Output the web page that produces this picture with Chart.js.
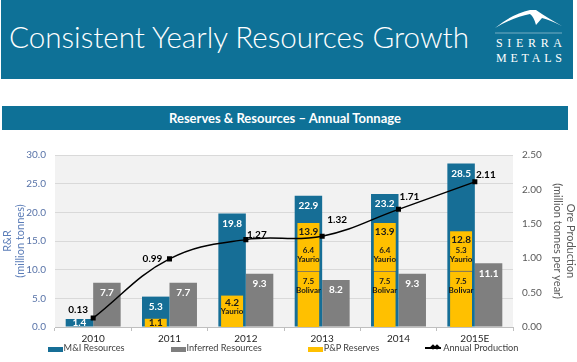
<!DOCTYPE html>
<html>
<head>
<meta charset="utf-8">
<script src="https://cdn.jsdelivr.net/npm/chart.js@4.4.1/dist/chart.umd.min.js"></script>
<style>
  html, body { margin: 0; padding: 0; background: #fff; }
  body { width: 577px; height: 362px; position: relative; overflow: hidden; font-family: Lato, "Open Sans", sans-serif; }
  .header { position: absolute; left: 1px; top: 0; width: 572px; height: 79px; background: #0e7197; }
  .header h1 { position: absolute; left: 8px; top: 19px; margin: 0; font-weight: 300; font-size: 29.6px; line-height: 35px; color: #fff; white-space: nowrap; }
  .logo { position: absolute; left: 479px; top: 0; }
  .band { position: absolute; left: 2px; top: 106px; width: 566px; height: 24px; background: #0e7197; color: #fff; font-weight: bold; font-size: 13px; line-height: 24px; text-align: center; }
  .chart-box { position: absolute; left: 0; top: 140px; width: 577px; height: 222px; }
  #legend { position: absolute; left: 0; top: 342px; width: 566px; display: flex; justify-content: center; gap: 46px; font-size: 9.2px; line-height: 12px; color: #404040; }
  #legend .item { display: flex; align-items: center; white-space: nowrap; }
  #legend .box { width: 15px; height: 5px; margin-right: 1px; margin-top: 2px; }
  #legend .ln { position: relative; width: 16px; height: 2px; margin-right: 2px; background: #000; }
  #legend .ln i { position: absolute; top: -2px; width: 4px; height: 4px; background: #000; transform: rotate(45deg); }
</style>
</head>
<body>
<div class="header">
  <h1>Consistent Yearly Resources Growth</h1>
  <svg class="logo" width="95" height="79">
    <path d="M15,28 Q32,14 50,10 L56,10 Q66,17 82,26 Q70,20 62,18 L56,25 Q54,17 50,14 Q34,17 15,28 Z" fill="#fff"/>
    <line x1="15" y1="33" x2="82" y2="33" stroke="rgba(255,255,255,0.55)" stroke-width="0.8"/>
    <text x="16" y="47" fill="#fff" font-family="Liberation Serif" font-size="12" textLength="66" lengthAdjust="spacing">SIERRA</text>
    <text x="16" y="62" fill="#fff" font-family="Liberation Serif" font-size="12" textLength="66" lengthAdjust="spacing">METALS</text>
  </svg>
</div>
<div class="band">Reserves &amp; Resources – Annual Tonnage</div>
<div class="chart-box"><canvas id="chart"></canvas></div>
<div id="legend"></div>
<script>
const years = ['2010', '2011', '2012', '2013', '2014', '2015E'];
const miResources = [1.4, 5.3, 19.8, 22.9, 23.2, 28.5];
const inferredResources = [7.7, 7.7, 9.3, 8.2, 9.3, 11.1];
const ppBolivar = [null, null, null, 7.5, 7.5, 7.5];
const ppYaurio = [null, 1.1, 4.2, 6.4, 6.4, 5.3];
const annualProduction = [0.13, 0.99, 1.27, 1.32, 1.71, 2.11];
const rrTicks = [0, 5, 10, 15, 20, 25, 30];
const prodTicks = [0, 0.5, 1, 1.5, 2, 2.5];

const BLUE = '#166e96';
const GRAY = '#7f7f7f';
const GOLD = '#ffc000';
// where each production label sits relative to its point
const prodLabelOffsets = [[-15, -8], [-17, 0], [11, -5], [15, -16], [11, -13], [11, -7]];

const plotBg = {
  id: 'plotBg',
  beforeDraw(chart) {
    const { ctx, chartArea: a } = chart;
    ctx.save();
    ctx.fillStyle = '#f2f2f2';
    ctx.fillRect(a.left, a.top, a.right - a.left, a.bottom - a.top);
    ctx.restore();
  }
};

const valueLabels = {
  id: 'valueLabels',
  afterDatasetsDraw(chart) {
    const ctx = chart.ctx;
    ctx.save();
    ctx.textAlign = 'center';
    ctx.textBaseline = 'middle';

    // white labels in the blue and gray bars
    [0, 1].forEach(di => {
      chart.getDatasetMeta(di).data.forEach((bar, i) => {
        const v = chart.data.datasets[di].data[i];
        const h = bar.base - bar.y;
        const y = h < 20 ? (bar.y + bar.base) / 2 : bar.y + 10;
        ctx.font = 'bold 10px Lato';
        ctx.fillStyle = '#fff';
        ctx.fillText(v.toFixed(1), bar.x, y);
      });
    });

    // P&P reserves, total and split by mine
    const bMeta = chart.getDatasetMeta(2);
    const yMeta = chart.getDatasetMeta(3);
    ctx.fillStyle = '#1a1a1a';
    years.forEach((_, i) => {
      const ya = ppYaurio[i];
      const b = ppBolivar[i];
      if (ya == null) return;
      const el = yMeta.data[i];
      const total = ya + (b || 0);
      const segH = el.base - el.y;
      if (b != null) {
        const bEl = bMeta.data[i];
        ctx.font = 'bold 10px Lato';
        ctx.fillText(total.toFixed(1), el.x, el.y + 9);
        ctx.font = 'bold 8px Lato';
        ctx.fillText(ya.toFixed(1), el.x, el.base - 20);
        ctx.fillText('Yaurio', el.x, el.base - 11);
        ctx.fillText(b.toFixed(1), el.x, bEl.y + 11);
        ctx.fillText('Bolivar', el.x, bEl.y + 20);
      } else if (segH > 20) {
        ctx.font = 'bold 10px Lato';
        ctx.fillText(total.toFixed(1), el.x, el.y + 7);
        ctx.font = 'bold 8px Lato';
        ctx.fillText('Yaurio', el.x, el.y + 16);
      } else {
        ctx.font = 'bold 10px Lato';
        ctx.fillText(total.toFixed(1), el.x, (el.y + el.base) / 2);
      }
    });

    // production values
    const lMeta = chart.getDatasetMeta(4);
    ctx.font = 'bold 10px Lato';
    ctx.fillStyle = '#000';
    lMeta.data.forEach((pt, i) => {
      const [dx, dy] = prodLabelOffsets[i];
      ctx.fillText(annualProduction[i].toFixed(2), pt.x + dx, pt.y + dy);
    });
    ctx.restore();
  }
};

const htmlLegend = {
  id: 'htmlLegend',
  afterUpdate(chart) {
    const box = document.getElementById('legend');
    box.innerHTML = '';
    const keep = ['M&I Resources', 'Inferred Resources', 'P&P Reserves', 'Annual Production'];
    chart.data.datasets.forEach(ds => {
      if (!keep.includes(ds.label)) return;
      const item = document.createElement('div');
      item.className = 'item';
      const sw = document.createElement('span');
      if (ds.type === 'line') {
        sw.className = 'ln';
        sw.innerHTML = '<i style="left:6px"></i><i style="left:10px"></i>';
      } else {
        sw.className = 'box';
        sw.style.background = ds.backgroundColor;
      }
      const txt = document.createElement('span');
      txt.textContent = ds.label;
      item.appendChild(sw);
      item.appendChild(txt);
      box.appendChild(item);
    });
  }
};

// P&P bars share the M&I slot ('left' stack name) but sit on their own value
// scale, so they overlay the blue bar instead of stacking on it
new Chart(document.getElementById('chart'), {
  data: {
    labels: years,
    datasets: [
      {
        type: 'bar', label: 'M&I Resources', data: miResources, stack: 'left',
        backgroundColor: BLUE, yAxisID: 'y', order: 3,
        categoryPercentage: 0.72, barPercentage: 1
      },
      {
        type: 'bar', label: 'Inferred Resources', data: inferredResources, stack: 'right',
        backgroundColor: GRAY, yAxisID: 'y', order: 3,
        categoryPercentage: 0.72, barPercentage: 1
      },
      {
        type: 'bar', label: 'P&P Reserves', data: ppBolivar, stack: 'left',
        backgroundColor: GOLD, borderColor: '#8d7c50',
        borderWidth: { top: 1, right: 0, bottom: 0, left: 0 },
        yAxisID: 'yPP', order: 2,
        categoryPercentage: 0.72, barPercentage: 0.8
      },
      {
        type: 'bar', label: 'Yaurio', data: ppYaurio, stack: 'left',
        backgroundColor: GOLD, yAxisID: 'yPP', order: 2,
        categoryPercentage: 0.72, barPercentage: 0.8
      },
      {
        type: 'line', label: 'Annual Production', data: annualProduction,
        yAxisID: 'y1', order: 0,
        borderColor: '#000', borderWidth: 1.5, tension: 0.4,
        pointStyle: 'rect', pointRadius: 2.5,
        pointBackgroundColor: '#000', pointBorderColor: '#000'
      }
    ]
  },
  options: {
    responsive: true,
    maintainAspectRatio: false,
    animation: false,
    layout: { padding: { top: 15, bottom: 15, left: 0, right: 0 } },
    plugins: {
      legend: { display: false },
      tooltip: { enabled: false }
    },
    scales: {
      x: {
        type: 'category',
        offset: true,
        grid: { display: true, drawOnChartArea: false, drawTicks: true, tickLength: 4, color: '#bfbfbf' },
        border: { color: '#bfbfbf' },
        ticks: { color: '#262626', font: { family: 'Lato', size: 10 }, padding: 2, maxRotation: 0 },
        afterFit(s) { s.height = 20; }
      },
      y: {
        position: 'left',
        min: 0, max: 30,
        afterBuildTicks(s) { s.ticks = rrTicks.map(v => ({ value: v })); },
        ticks: {
          color: '#5873a8', padding: 9,
          font: { family: 'Lato', size: 10 },
          callback: v => v.toFixed(1)
        },
        grid: { color: '#d9d9d9', drawTicks: false },
        border: { display: false },
        title: {
          display: true, text: ['R&R', '(million tonnes)'],
          color: '#5b7db8', font: { family: 'Lato', size: 11 }, padding: { top: 1, bottom: 0 }
        },
        afterFit(s) { s.width = 55; }
      },
      yPP: { display: false, min: 0, max: 23 },
      y1: {
        position: 'right',
        min: 0, max: 2.5,
        afterBuildTicks(s) { s.ticks = prodTicks.map(v => ({ value: v })); },
        ticks: {
          color: '#595959', padding: 9,
          font: { family: 'Lato', size: 10 },
          callback: v => v.toFixed(2)
        },
        grid: { drawOnChartArea: false, drawTicks: false },
        border: { display: false },
        title: {
          display: true, text: ['Ore Production', '(million tonnes per year)'],
          color: '#595959', font: { family: 'Lato', size: 11 }, padding: { top: 0, bottom: 0 }
        },
        afterFit(s) { s.width = 64; }
      }
    }
  },
  plugins: [plotBg, valueLabels, htmlLegend]
});
</script>
</body>
</html>
